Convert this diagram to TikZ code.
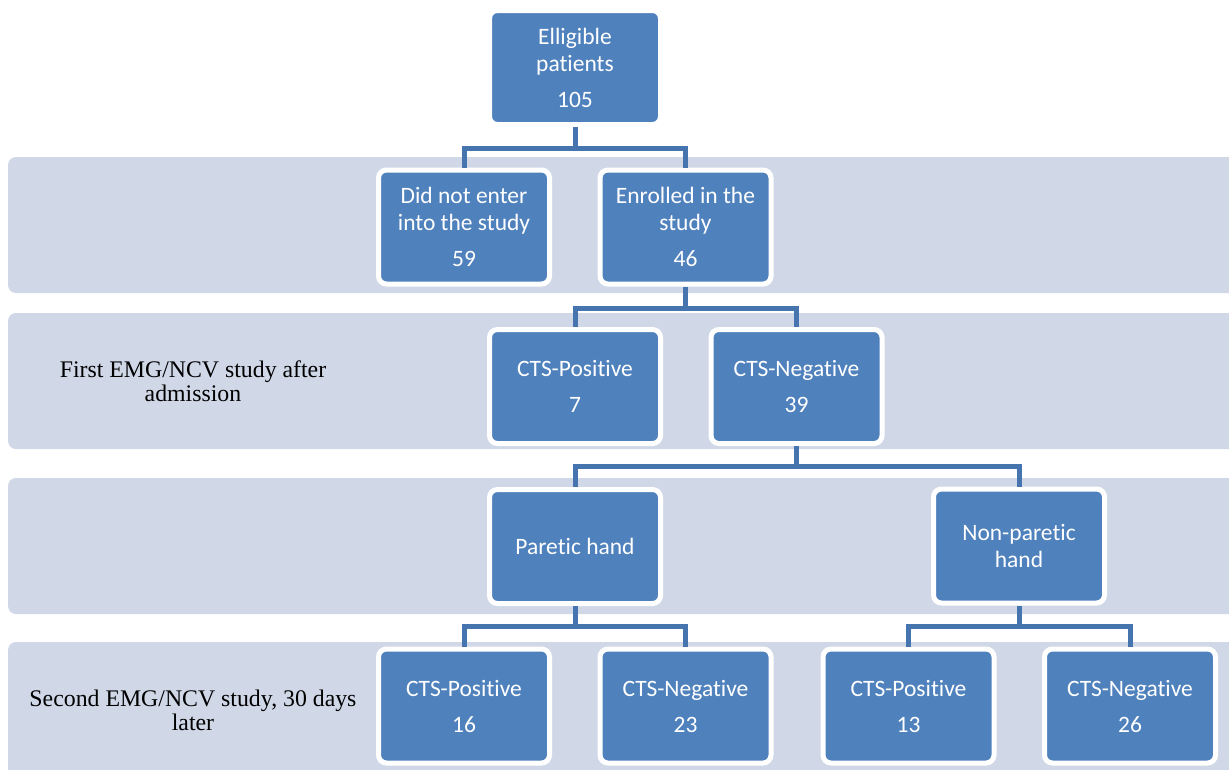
\documentclass[tikz,border=0pt]{standalone}
\usepackage{fontspec}
\setmainfont{Liberation Serif}
\newfontfamily\boxfont[Ligatures=NoCommon]{Carlito}
\definecolor{bandcol}{HTML}{D0D8E8}
\definecolor{boxcol}{HTML}{4F81BD}
\definecolor{conncol}{HTML}{4674AE}
\tikzset{
  band/.style={fill=bandcol, rounded corners=8pt},
  box/.style={rectangle, rounded corners=8pt, fill=boxcol, draw=white, line width=5pt,
    minimum width=171pt, minimum height=114pt, inner sep=0pt, align=center,
    text=white, font=\boxfont\fontsize{23.5}{27}\selectfont},
  conn/.style={draw=conncol, line width=5pt},
  bandlabel/.style={align=center, font=\fontsize{23.8}{24}\selectfont, text=black}
}
\begin{document}
\begin{tikzpicture}[x=1pt,y=-1pt]
\useasboundingbox (0,0) rectangle (1229,769);
\clip (0,0) rectangle (1229,769);
% bands
\fill[band] (8,157) rectangle (1260,293);
\fill[band] (8,313) rectangle (1260,449);
\fill[band] (8,478) rectangle (1260,614);
\fill[band] (8,642) rectangle (1260,778);
% labels
\node[bandlabel] (lab1) at (193,381) {First EMG/NCV study after\\admission};
\node[bandlabel] (lab2) at (193,710) {Second EMG/NCV study, 30 days\\later};
% boxes
\node[box] (top) at (575,67.5) {Elligible\\patients\\[9pt]105};
\node[box] (did) at (464,227) {Did not enter\\into the study\\[9pt]59};
\node[box] (enr) at (685.5,227) {Enrolled in the\\study\\[9pt]46};
\node[box] (pos1) at (575,386.5) {CTS-Positive\\[9pt]7};
\node[box] (neg1) at (796.5,386.5) {CTS-Negative\\[9pt]39};
\node[box] (par) at (575,546.5) {Paretic hand};
\node[box] (npar) at (1019,546) {Non-paretic\\hand};
\node[box] (b1) at (464,706) {CTS-Positive\\[9pt]16};
\node[box] (b2) at (685.5,706) {CTS-Negative\\[9pt]23};
\node[box] (b3) at (908.5,706) {CTS-Positive\\[9pt]13};
\node[box] (b4) at (1130,706) {CTS-Negative\\[9pt]26};
% connectors
\coordinate (j1) at (575,148);
\coordinate (j2) at (685.5,308);
\coordinate (j3) at (796.5,466);
\coordinate (j4) at (575,626);
\coordinate (j5) at (1019,626);
\draw[conn] (top.south) -- (j1);
\draw[conn] (j1) -| (did.north);
\draw[conn] (j1) -| (enr.north);
\draw[conn] (enr.south) -- (j2);
\draw[conn] (j2) -| (pos1.north);
\draw[conn] (j2) -| (neg1.north);
\draw[conn] (neg1.south) -- (j3);
\draw[conn] (j3) -| (par.north);
\draw[conn] (j3) -| (npar.north);
\draw[conn] (par.south) -- (j4);
\draw[conn] (j4) -| (b1.north);
\draw[conn] (j4) -| (b2.north);
\draw[conn] (npar.south) -- (j5);
\draw[conn] (j5) -| (b3.north);
\draw[conn] (j5) -| (b4.north);
\end{tikzpicture}
\end{document}
